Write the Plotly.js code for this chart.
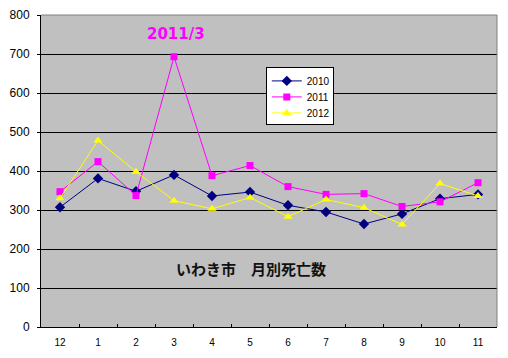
<!DOCTYPE html>
<html><head><meta charset="utf-8">
<script src="https://cdn.plot.ly/plotly-3.0.1.min.js"></script>
<style>html,body{margin:0;padding:0;background:#fff;}</style>
</head><body>
<div id="chart" style="width:508px;height:358px;"></div>
<script>
const months = ['12','1','2','3','4','5','6','7','8','9','10','11'];
const deaths2010 = [307, 381, 348, 390, 336, 346, 312, 295, 264, 290, 329, 340];
const deaths2011 = [347, 424, 337, 693, 388, 414, 360, 340, 342, 309, 321, 370];
const deaths2012 = [330, 478, 398, 324, 303, 332, 283, 327, 306, 263, 368, 336];
const yTicks = [0, 100, 200, 300, 400, 500, 600, 700, 800];

const lbl = "'Liberation Sans', Arial, sans-serif";
const traces = [
  {x: months, y: deaths2010, name: '2010', type: 'scatter', mode: 'lines+markers',
   line: {color: '#000080', width: 1}, marker: {symbol: 'diamond', size: 8, color: '#000080'}},
  {x: months, y: deaths2011, name: '2011', type: 'scatter', mode: 'lines+markers',
   line: {color: '#FF00FF', width: 1}, marker: {symbol: 'square', size: 7, color: '#FF00FF'}},
  {x: months, y: deaths2012, name: '2012', type: 'scatter', mode: 'lines+markers',
   line: {color: '#FFFF00', width: 1}, marker: {symbol: 'triangle-up', size: 8, color: '#FFFF00'}}
];
const layout = {
  width: 508, height: 358,
  margin: {l: 41, r: 11, t: 15, b: 31, pad: 0},
  paper_bgcolor: '#FFFFFF', plot_bgcolor: '#C0C0C0',
  showlegend: true,
  legend: {x: 0.493, y: 0.832, xanchor: 'left', yanchor: 'top',
    bgcolor: '#FFFFFF', bordercolor: '#000000', borderwidth: 1,
    font: {family: lbl, size: 10, color: '#000'}, tracegroupgap: 0, itemwidth: 30},
  xaxis: {type: 'category', categoryorder: 'array', categoryarray: months,
    range: [-0.5, 11.5], showgrid: false, zeroline: false,
    showline: true, linecolor: '#000', linewidth: 1,
    ticks: 'inside', ticklen: 3, tickcolor: '#000', tickson: 'boundaries',
    tickfont: {family: lbl, size: 10, color: '#000'}, ticklabelstandoff: 6},
  yaxis: {range: [0, 800], tickvals: yTicks, ticktext: yTicks.map(String),
    showgrid: true, gridcolor: '#000', gridwidth: 1, zeroline: false,
    showline: true, linecolor: '#000', linewidth: 1,
    ticks: 'outside', ticklen: 3, tickcolor: '#000',
    tickfont: {family: lbl, size: 12, color: '#000'}, ticklabelstandoff: 5},
  shapes: [
    {type: 'line', xref: 'paper', yref: 'paper', x0: 0, x1: 1, y0: 1, y1: 1, line: {color: '#808080', width: 1}, layer: 'above'},
    {type: 'line', xref: 'paper', yref: 'paper', x0: 1, x1: 1, y0: 0, y1: 1, line: {color: '#808080', width: 1}, layer: 'above'}
  ],
  annotations: [
    {text: '<b>2011/3</b>', xref: 'paper', yref: 'paper', x: 0.295, y: 0.939,
     xanchor: 'center', yanchor: 'middle',
     showarrow: false, font: {family: "'DejaVu Sans', sans-serif", size: 15, color: '#FF00FF'}},
    {text: '<b>いわき市　月別死亡数</b>', xref: 'paper', yref: 'paper', x: 0.461, y: 0.186,
     xanchor: 'center', yanchor: 'middle', showarrow: false,
     font: {family: "'Noto Sans CJK JP', sans-serif", size: 15, color: '#111'}}
  ]
};
Plotly.newPlot('chart', traces, layout, {displayModeBar: false, staticPlot: true}).then(function(gd){
  // tighten legend row spacing to match the reference (16px rows)
  const items = gd.querySelectorAll('.legend .traces');
  if (!items.length) return;
  const parse = el => {
    const m = /translate\(\s*([-\d.]+)[ ,]+([-\d.]+)\s*\)/.exec(el.getAttribute('transform') || '');
    return m ? [parseFloat(m[1]), parseFloat(m[2])] : [0, 0];
  };
  const first = parse(items[0]);
  const rowH = 16;
  let oldSpan = 0;
  items.forEach((el, i) => {
    const p = parse(el);
    if (i === items.length - 1) oldSpan = p[1] - first[1];
    el.setAttribute('transform', 'translate(' + p[0] + ',' + (first[1] + i * rowH - 2) + ')');
  });
  const newSpan = (items.length - 1) * rowH;
  const bg = gd.querySelector('.legend .bg');
  if (bg) {
    const h = parseFloat(bg.getAttribute('height'));
    bg.setAttribute('height', h - (oldSpan - newSpan) - 5);
    const w = parseFloat(bg.getAttribute('width'));
    bg.setAttribute('width', w - 2);
  }
});
</script>
</body></html>
